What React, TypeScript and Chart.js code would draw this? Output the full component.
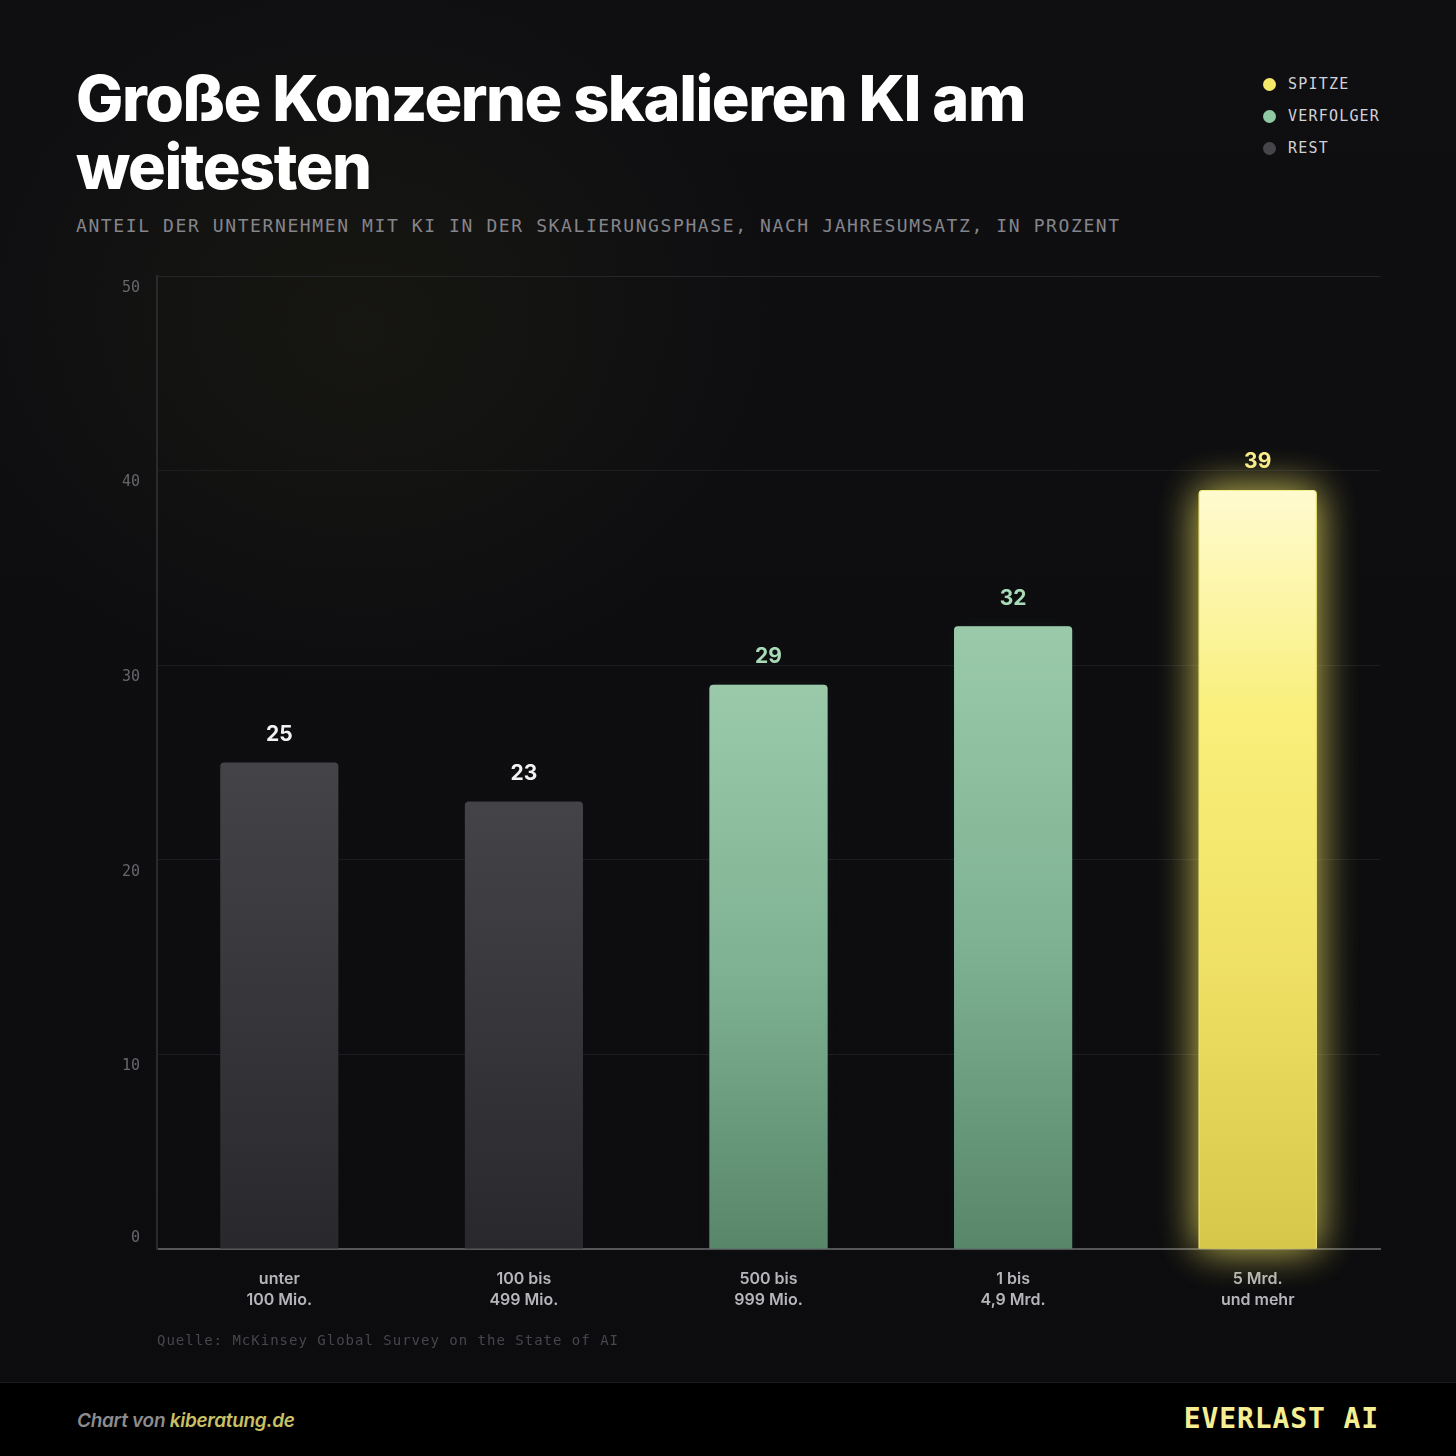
import React, { useEffect, useRef } from "react";
import { Chart, registerables } from "chart.js";

Chart.register(...registerables);

const categories: string[][] = [
  ["unter", "100 Mio."],
  ["100 bis", "499 Mio."],
  ["500 bis", "999 Mio."],
  ["1 bis", "4,9 Mrd."],
  ["5 Mrd.", "und mehr"],
];
const shares: number[] = [25, 23, 29, 32, 39];
const groups: string[] = ["rest", "rest", "verfolger", "verfolger", "spitze"];

const yMin = 0;
const yMax = 50;
const yStep = 10;

const legendItems = [
  { key: "spitze", label: "SPITZE", color: "#f6e96a" },
  { key: "verfolger", label: "VERFOLGER", color: "#8fc9a3" },
  { key: "rest", label: "REST", color: "#45454a" },
];

const palette: Record<string, { stops: [number, string][]; label: string; glow: string; glowBlur: number }> = {
  rest: {
    stops: [
      [0, "#444448"],
      [1, "#29292d"],
    ],
    label: "#f2f2f2",
    glow: "rgba(0,0,0,0)",
    glowBlur: 0,
  },
  verfolger: {
    stops: [
      [0, "#9acaa9"],
      [0.5, "#7fb293"],
      [1, "#588669"],
    ],
    label: "#a9dbb8",
    glow: "rgba(140,200,160,0.18)",
    glowBlur: 18,
  },
  spitze: {
    stops: [
      [0, "#fffbd0"],
      [0.3, "#f9ef7a"],
      [0.6, "#f0e266"],
      [1, "#d6c74a"],
    ],
    label: "#f8ec8c",
    glow: "rgba(245,232,100,0.7)",
    glowBlur: 40,
  },
};

const MONO = "'DejaVu Sans Mono', 'Liberation Mono', monospace";
const SANS = "Inter, 'Noto Sans', sans-serif";

// Soft glow behind the bars, then value labels above them
const barDecor = {
  id: "barDecor",
  beforeDatasetsDraw(chart: any) {
    const { ctx } = chart;
    const meta = chart.getDatasetMeta(0);
    meta.data.forEach((bar: any, i: number) => {
      const p = palette[groups[i]];
      if (!p.glowBlur) return;
      const w = bar.width;
      ctx.save();
      ctx.shadowColor = p.glow;
      ctx.shadowBlur = p.glowBlur;
      ctx.fillStyle = p.glow;
      ctx.beginPath();
      ctx.roundRect(bar.x - w / 2, bar.y, w, bar.base - bar.y, [4, 4, 0, 0]);
      ctx.fill();
      ctx.fill();
      ctx.restore();
    });
  },
  afterDatasetsDraw(chart: any) {
    const { ctx } = chart;
    const meta = chart.getDatasetMeta(0);
    ctx.save();
    ctx.font = `700 21px ${SANS}`;
    ctx.textAlign = "center";
    ctx.textBaseline = "middle";
    meta.data.forEach((bar: any, i: number) => {
      ctx.fillStyle = palette[groups[i]].label;
      ctx.fillText(String(shares[i]), bar.x, bar.y - 28);
    });
    ctx.restore();
  },
};

function barGradient(context: any) {
  const chart = context.chart;
  const { chartArea } = chart;
  if (!chartArea) return "#444";
  const i = context.dataIndex;
  const yScale = chart.scales.y;
  const top = yScale.getPixelForValue(shares[i]);
  const bottom = yScale.getPixelForValue(0);
  const g = chart.ctx.createLinearGradient(0, top, 0, bottom);
  palette[groups[i]].stops.forEach(([o, c]) => g.addColorStop(o, c));
  return g;
}

function BarChart() {
  const ref = useRef<HTMLCanvasElement | null>(null);
  useEffect(() => {
    if (!ref.current) return;
    const chart = new Chart(ref.current, {
      type: "bar",
      data: {
        labels: categories,
        datasets: [
          {
            data: shares,
            backgroundColor: barGradient,
            borderColor: (c: any) => (groups[c.dataIndex] === "spitze" ? "rgba(255,250,170,0.55)" : "rgba(0,0,0,0)"),
            borderWidth: (c: any) => (groups[c.dataIndex] === "spitze" ? 1 : 0),
            borderSkipped: "bottom",
            borderRadius: { topLeft: 4, topRight: 4, bottomLeft: 0, bottomRight: 0 },
            barPercentage: 0.6,
            categoryPercentage: 0.805,
          },
        ],
      },
      options: {
        animation: false,
        responsive: false,
        maintainAspectRatio: false,
        layout: { padding: { top: 26, right: 76, left: 0, bottom: 0 } },
        plugins: { legend: { display: false }, tooltip: { enabled: false } },
        scales: {
          x: {
            grid: { display: false, drawTicks: false },
            border: { display: true, color: "#55555a", width: 2 },
            ticks: {
              color: "#b6b6ba",
              font: { family: SANS, size: 16, weight: "600", lineHeight: 1.3 },
              padding: 20,
              maxRotation: 0,
            },
            afterFit: (s: any) => {
              s.height = 121;
            },
          },
          y: {
            min: yMin,
            max: yMax,
            grid: { color: "#1d1d21", lineWidth: 1, drawTicks: false },
            border: { display: true, color: "#2a2a2e", width: 2 },
            ticks: {
              stepSize: yStep,
              color: "#66666c",
              padding: 17,
              labelOffset: 12,
              font: (c: any) => ({
                family: MONO,
                size: 15,
                lineHeight: c.tick && c.tick.value === 0 ? 3.0 : 1.2,
              }),
              callback: (v: any) => (Number(v) === 0 ? ["0", ""] : String(v)),
            },
            afterFit: (s: any) => {
              s.width = 157;
            },
          },
        },
      },
      plugins: [
        barDecor,
        {
          id: "topLine",
          afterDraw(chart: any) {
            const { ctx, chartArea } = chart;
            ctx.save();
            ctx.strokeStyle = "#26262a";
            ctx.lineWidth = 1;
            ctx.beginPath();
            ctx.moveTo(chartArea.left, chartArea.top + 0.5);
            ctx.lineTo(chartArea.right, chartArea.top + 0.5);
            ctx.stroke();
            ctx.restore();
          },
        },
      ],
    } as any);
    return () => chart.destroy();
  }, []);
  return (
    <canvas
      ref={ref}
      width={1456}
      height={1120}
      style={{ position: "absolute", left: 0, top: 250, width: 1456, height: 1120 }}
    />
  );
}

export default function App() {
  return (
    <div
      style={{
        position: "absolute",
        left: 0,
        top: 0,
        width: 1456,
        height: 1456,
        overflow: "hidden",
        background:
          "radial-gradient(ellipse 420px 360px at 360px 330px, rgba(60,58,20,0.18), rgba(0,0,0,0) 100%), linear-gradient(180deg, #0f0f12 0%, #0c0c0f 100%)",
        fontFamily: SANS,
      }}
    >
      <div
        style={{
          position: "absolute",
          left: 76,
          top: 64,
          width: 1100,
          color: "#ffffff",
          fontFamily: SANS,
          fontWeight: 800,
          fontSize: 63,
          lineHeight: "68px",
          letterSpacing: "-1.5px",
        }}
      >
        Große Konzerne skalieren KI am
        <br />
        weitesten
      </div>
      <div
        style={{
          position: "absolute",
          left: 76,
          top: 214,
          color: "#85858b",
          fontFamily: MONO,
          fontSize: 18,
          lineHeight: "24px",
          letterSpacing: "1.6px",
          whiteSpace: "nowrap",
        }}
      >
        ANTEIL DER UNTERNEHMEN MIT KI IN DER SKALIERUNGSPHASE, NACH JAHRESUMSATZ, IN PROZENT
      </div>
      <div style={{ position: "absolute", left: 1263, top: 68 }}>
        {legendItems.map((it) => (
          <div
            key={it.key}
            style={{ display: "flex", alignItems: "center", height: 32 }}
          >
            <span
              style={{
                display: "inline-block",
                width: 13,
                height: 13,
                borderRadius: "50%",
                background: it.color,
                marginRight: 12,
              }}
            />
            <span
              style={{
                color: "#d2d2d6",
                fontFamily: MONO,
                fontSize: 15,
                letterSpacing: "1.2px",
                lineHeight: "20px",
              }}
            >
              {it.label}
            </span>
          </div>
        ))}
      </div>
      <BarChart />
      <div
        style={{
          position: "absolute",
          left: 157,
          top: 1331,
          color: "#46464c",
          fontFamily: MONO,
          fontSize: 14,
          letterSpacing: "1px",
          lineHeight: "18px",
          whiteSpace: "nowrap",
        }}
      >
        Quelle: McKinsey Global Survey on the State of AI
      </div>
      <div
        style={{
          position: "absolute",
          left: 0,
          top: 1382,
          width: 1456,
          height: 74,
          background: "#000000",
          borderTop: "1px solid #1c1c20",
        }}
      >
        <div
          style={{
            position: "absolute",
            left: 77,
            top: 26,
            fontFamily: SANS,
            fontStyle: "italic",
            fontWeight: 600,
            fontSize: 19,
            lineHeight: "24px",
            color: "#8c8c8e",
            letterSpacing: "-0.3px",
          }}
        >
          Chart von <span style={{ color: "#c9c064" }}>kiberatung.de</span>
        </div>
        <div
          style={{
            position: "absolute",
            right: 77,
            top: 19,
            fontFamily: MONO,
            fontWeight: 700,
            fontSize: 28,
            lineHeight: "34px",
            color: "#f6ee92",
            letterSpacing: "0.9px",
          }}
        >
          EVERLAST AI
        </div>
      </div>
    </div>
  );
}
